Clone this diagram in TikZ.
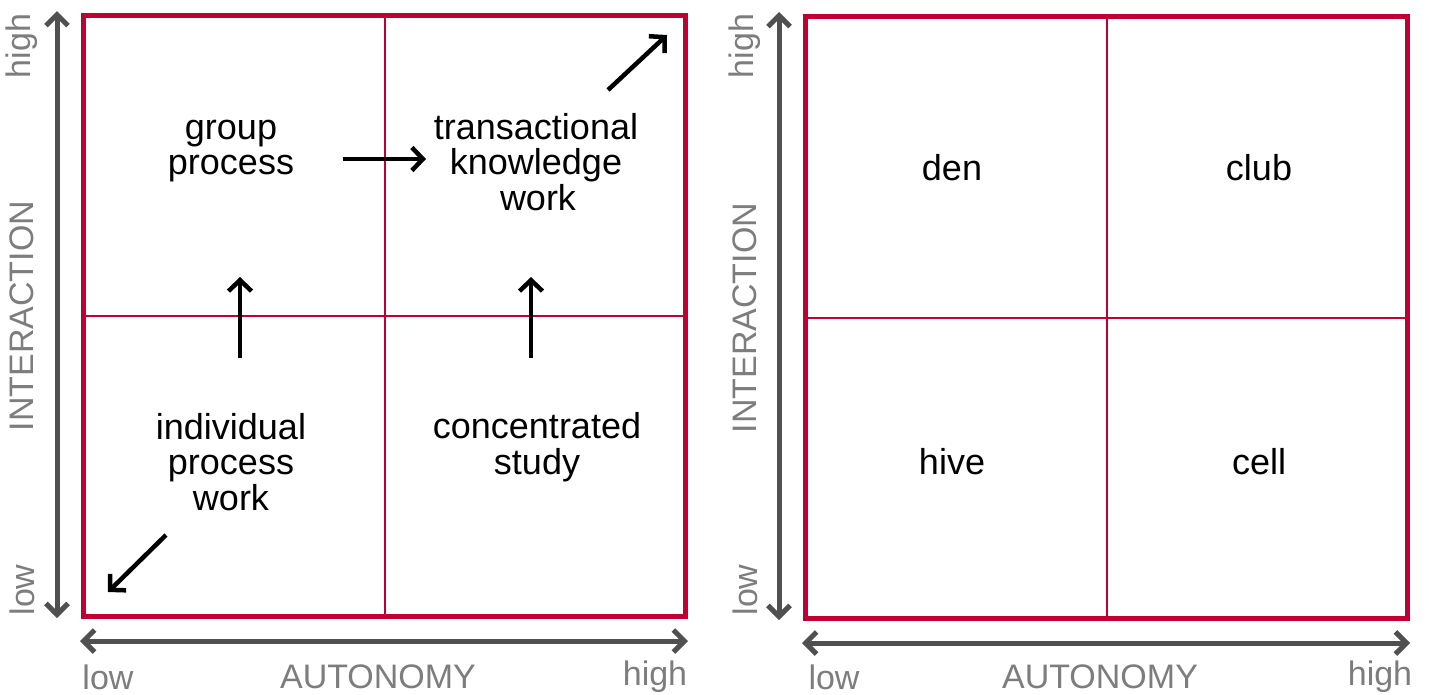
\documentclass[tikz,border=0pt]{standalone}
\usepackage{fontspec}
\setmainfont{Liberation Sans}
\usetikzlibrary{arrows.meta}
\definecolor{boxred}{RGB}{192,0,50}
\definecolor{axisgray}{RGB}{80,80,80}
\definecolor{labelgray}{RGB}{125,125,125}
\begin{document}
\begin{tikzpicture}[x=1pt,y=-1pt,
  frame/.style={draw=boxred,line width=5pt,line join=miter},
  divider/.style={draw=boxred,line width=2pt},
  axisline/.style={draw=axisgray,line width=5pt,{Straight Barb[length=11pt,width=22pt,line width=5pt]}-{Straight Barb[length=11pt,width=22pt,line width=5pt]}},
  flow/.style={draw=black,line width=4.5pt,-{Straight Barb[length=11pt,width=23pt,line width=4.5pt]}},
  quadtext/.style={text=black,align=center,font=\fontsize{36}{35.5}\selectfont,inner sep=0pt},
  axislabel/.style={text=labelgray,font=\fontsize{34}{34}\selectfont,inner sep=0pt},
]
\useasboundingbox (0,0) rectangle (1429,694);
\fill[white] (0,0) rectangle (1429,694);

% ---------- left panel ----------
\coordinate (L1) at (83.5,15);
\coordinate (L2) at (685.5,616);
\draw[frame] (L1) rectangle (L2);
\coordinate (LvT) at (385,15); \coordinate (LvB) at (385,616);
\coordinate (LhL) at (83.5,316); \coordinate (LhR) at (685.5,316);
\draw[divider] (LvT) -- (LvB);
\draw[divider] (LhL) -- (LhR);

\node[quadtext] (gp) at (231,151) {group\\process};
\node[quadtext] (tkw) at (536,162) {transactional\\knowledge\hspace*{8pt}\\\hspace*{4pt}work};
\node[quadtext] (ipw) at (231,462) {individual\\process\\work};
\node[quadtext] (cs) at (537,447) {concentrated\\study};

\coordinate (a1s) at (343,159); \coordinate (a1e) at (426,159);
\coordinate (a2s) at (608,90);  \coordinate (a2e) at (667,35);
\coordinate (a3s) at (240,358); \coordinate (a3e) at (240,277);
\coordinate (a4s) at (531,358); \coordinate (a4e) at (531,277);
\coordinate (a5s) at (166,535); \coordinate (a5e) at (108,592);
\draw[flow] (a1s) -- (a1e);
\draw[flow] (a2s) -- (a2e);
\draw[flow] (a3s) -- (a3e);
\draw[flow] (a4s) -- (a4e);
\draw[flow] (a5s) -- (a5e);

\coordinate (LyT) at (57,11); \coordinate (LyB) at (57,618);
\draw[axisline] (LyB) -- (LyT);
\coordinate (LxL) at (80,641); \coordinate (LxR) at (688,641);
\draw[axisline] (LxL) -- (LxR);

\node[axislabel,rotate=90] (Lhigh) at (22,46) {high};
\node[axislabel,rotate=90] (Llow) at (22,590) {low};
\node[axislabel,rotate=90] (Lint) at (22,316) {INTERACTION};
\node[axislabel] (Lxlow) at (108,677) {low};
\node[axislabel] (Lxaut) at (378,677) {AUTONOMY};
\node[axislabel] (Lxhigh) at (655,677) {high};

% ---------- right panel ----------
\coordinate (R1) at (805.5,16.5);
\coordinate (R2) at (1407,618.5);
\draw[frame] (R1) rectangle (R2);
\coordinate (RvT) at (1107,16.5); \coordinate (RvB) at (1107,618.5);
\coordinate (RhL) at (805.5,318); \coordinate (RhR) at (1407,318);
\draw[divider] (RvT) -- (RvB);
\draw[divider] (RhL) -- (RhR);

\node[quadtext] (den) at (952,168) {den};
\node[quadtext] (club) at (1259,168) {club};
\node[quadtext] (hive) at (952,462) {hive};
\node[quadtext] (cell) at (1259,462) {cell};

\coordinate (RyT) at (779,12); \coordinate (RyB) at (779,620);
\draw[axisline] (RyB) -- (RyT);
\coordinate (RxL) at (802,643); \coordinate (RxR) at (1410,643);
\draw[axisline] (RxL) -- (RxR);

\node[axislabel,rotate=90] (Rhigh) at (745,46) {high};
\node[axislabel,rotate=90] (Rlow) at (745,590) {low};
\node[axislabel,rotate=90] (Rint) at (745,318) {INTERACTION};
\node[axislabel] (Rxlow) at (834,677) {low};
\node[axislabel] (Rxaut) at (1100,677) {AUTONOMY};
\node[axislabel] (Rxhigh) at (1380,677) {high};
\end{tikzpicture}
\end{document}
